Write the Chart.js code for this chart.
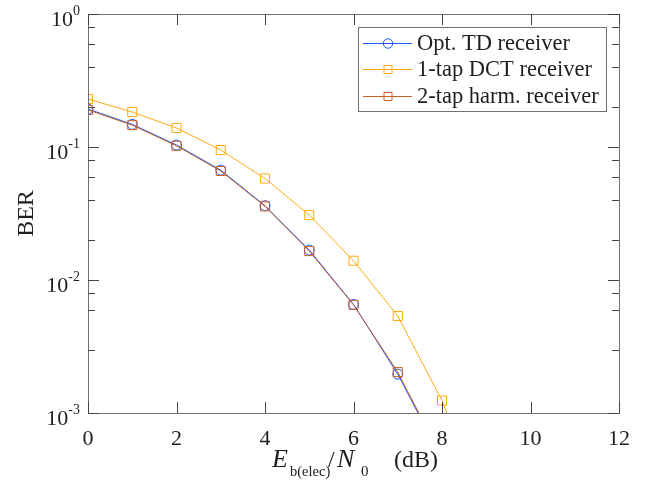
<!DOCTYPE html>
<html>
<head>
<meta charset="utf-8">
<script src="https://cdn.jsdelivr.net/npm/chart.js@4.4.1/dist/chart.umd.min.js"></script>
<style>
html,body{margin:0;padding:0;background:#fff;}
#wrap{width:647px;height:489px;position:relative;}
</style>
</head>
<body>
<div id="wrap"><canvas id="c" width="647" height="489"></canvas></div>
<script>
// ---- data ----
const snr = [0, 1, 2, 3, 4, 5, 6, 7, 8, 9];
const optTD = [0.193, 0.148, 0.1035, 0.067, 0.0362, 0.0168, 0.00656, 0.00196, 0.00045];
const dct1 = [0.2296, 0.183, 0.139, 0.0949, 0.058, 0.0308, 0.01396, 0.00536, 0.00124, 0.00018];
const harm2 = [0.19, 0.146, 0.102, 0.066, 0.0358, 0.0165, 0.0065, 0.00203, 0.00046];
const seriesNames = ['Opt. TD receiver', '1-tap DCT receiver', '2-tap harm. receiver'];
const xTicks = [0, 2, 4, 6, 8, 10, 12];
const yDecades = [1, 0.1, 0.01, 0.001];
const yDecadeLabels = ['0', '-1', '-2', '-3'];

const SERIF = "'Liberation Serif','Times New Roman',serif";
const AXC = '#1f1f1f';
const FRAME = '#6f6f6f';
const colors = ['#1A5AFF', '#FFAA10', '#C8602A'];
const styles = ['circle', 'rect', 'rect'];
const radii = [5, 6.4, 6.4];

function pts(arr){ return arr.map((v,i)=>({x:snr[i], y:v})); }

const decor = {
  id: 'decor',
  afterDatasetsDraw(chart) {
    const ctx = chart.ctx;
    const a = chart.chartArea;
    const xs = chart.scales.x, ys = chart.scales.y;
    ctx.save();
    // frame
    ctx.strokeStyle = FRAME;
    ctx.lineWidth = 1;
    ctx.strokeRect(Math.round(a.left)+0.5, Math.round(a.top)+0.5, Math.round(a.right-a.left), Math.round(a.bottom-a.top));
    // x ticks (bottom & top, inward)
    ctx.strokeStyle = '#444';
    ctx.beginPath();
    xTicks.forEach(v=>{
      const px = Math.round(xs.getPixelForValue(v))+0.5;
      ctx.moveTo(px, a.bottom); ctx.lineTo(px, a.bottom-11);
      ctx.moveTo(px, a.top); ctx.lineTo(px, a.top+11);
    });
    // y ticks (left & right, inward) from log scale ticks
    ys.ticks.forEach(t=>{
      const v = t.value;
      const lg = Math.log10(v);
      const major = Math.abs(lg - Math.round(lg)) < 1e-9;
      const len = major ? 11 : 7;
      const py = Math.round(ys.getPixelForValue(v))+0.5;
      ctx.moveTo(a.left, py); ctx.lineTo(a.left+len, py);
      ctx.moveTo(a.right, py); ctx.lineTo(a.right-len, py);
    });
    ctx.stroke();

    // x tick labels
    ctx.fillStyle = AXC;
    ctx.font = '22px ' + SERIF;
    ctx.textAlign = 'center';
    ctx.textBaseline = 'alphabetic';
    xTicks.forEach(v=>{
      ctx.fillText(String(v), xs.getPixelForValue(v), 445);
    });
    // y tick labels 10^k
    yDecades.forEach((v,i)=>{
      const py = ys.getPixelForValue(v);
      const sup = yDecadeLabels[i];
      ctx.font = '14px ' + SERIF;
      const sw = ctx.measureText(sup).width;
      const right = a.left - 8;
      ctx.textAlign = 'left';
      ctx.fillText(sup, right - sw, py + 1);
      ctx.font = '22px ' + SERIF;
      ctx.textAlign = 'right';
      ctx.fillText('10', right - sw, py + 12);
    });
    // y title
    ctx.save();
    ctx.translate(33, (a.top + a.bottom)/2);
    ctx.rotate(-Math.PI/2);
    ctx.font = '24px ' + SERIF;
    ctx.textAlign = 'center';
    ctx.fillText('BER', 0, 0);
    ctx.restore();
    // x title
    ctx.textAlign = 'left';
    const parts = [
      ['E', 'italic 26px ', 272, 467],
      ['b(elec)', '14.5px ', 290, 476],
      ['/', '24px ', 328, 467],
      ['N', 'italic 26px ', 337, 467],
      ['0', '15px ', 361, 476],
      ['(dB)', '24px ', 394, 467]
    ];
    parts.forEach(p=>{
      ctx.font = p[1] + SERIF;
      ctx.fillText(p[0], p[2], p[3]);
    });

    // legend
    const lx = 358.5, ly = 27.5, lw = 248, lh = 84;
    ctx.fillStyle = '#fff';
    ctx.fillRect(lx, ly, lw, lh);
    ctx.strokeStyle = FRAME;
    ctx.strokeRect(lx, ly, lw, lh);
    const rows = [43, 69, 96];
    chart.data.datasets.forEach((ds, i)=>{
      const y = rows[i];
      ctx.strokeStyle = ds.borderColor;
      ctx.lineWidth = 1;
      ctx.beginPath(); ctx.moveTo(363, y+0.5); ctx.lineTo(412, y+0.5); ctx.stroke();
      ctx.beginPath();
      if (ds.pointStyle === 'circle') {
        ctx.arc(388, y+0.5, 4.7, 0, Math.PI*2);
      } else {
        ctx.rect(384, y-3.5, 8, 8);
      }
      ctx.stroke();
      ctx.fillStyle = AXC;
      ctx.font = '22.5px ' + SERIF;
      ctx.textAlign = 'left';
      ctx.textBaseline = 'middle';
      ctx.fillText(ds.label, 417, y+1);
    });
    ctx.restore();
  }
};

const datasets = [optTD, dct1, harm2].map((arr, i)=>({
  label: seriesNames[i],
  data: pts(arr),
  borderColor: colors[i],
  backgroundColor: 'rgba(0,0,0,0)',
  borderWidth: 1,
  pointStyle: styles[i],
  pointRadius: radii[i],
  pointBorderWidth: 1,
  pointBackgroundColor: 'rgba(0,0,0,0)',
  pointBorderColor: colors[i],
  tension: 0,
  fill: false,
  order: [1, 2, 0][i]
}));

new Chart(document.getElementById('c'), {
  type: 'line',
  data: { datasets },
  options: {
    responsive: false,
    animation: false,
    devicePixelRatio: 1,
    layout: { padding: { left: 88, right: 28, top: 14, bottom: 76 } },
    plugins: { legend: { display: false }, tooltip: { enabled: false } },
    scales: {
      x: {
        type: 'linear', min: 0, max: 12, display: false,
        ticks: { stepSize: 2 },
        grid: { display: false }
      },
      y: {
        type: 'logarithmic', min: 0.001, max: 1, display: false,
        grid: { display: false }
      }
    }
  },
  plugins: [decor]
});
</script>
</body>
</html>
